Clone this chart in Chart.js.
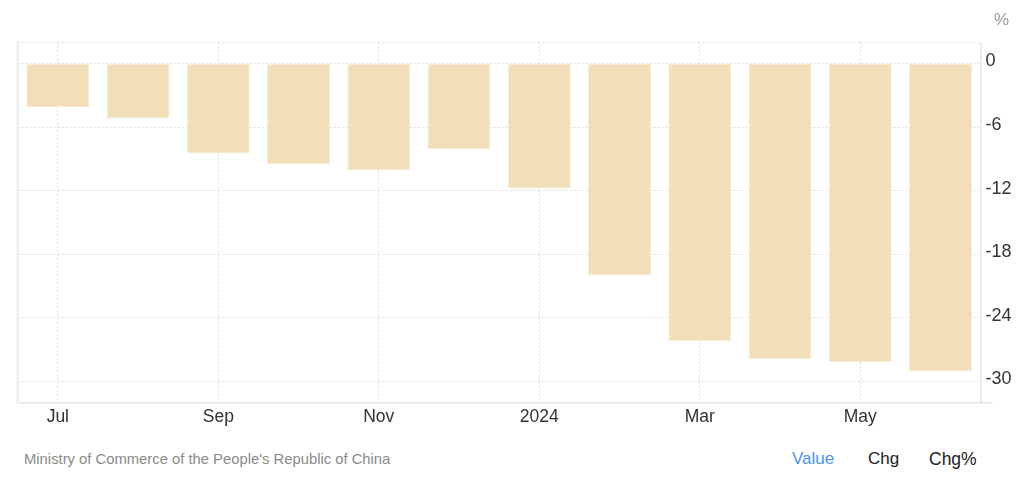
<!DOCTYPE html>
<html>
<head>
<meta charset="utf-8">
<script src="https://cdn.jsdelivr.net/npm/chart.js@4/dist/chart.umd.min.js"></script>
<style>
  body { margin: 0; background: #fff; font-family: "Liberation Sans", Arial, sans-serif; }
  #wrap { position: absolute; left: 0; top: 0; width: 1024px; height: 440px; }
  .unit { position: absolute; left: 994px; top: 10px; font-size: 17px; color: #999; }
  .source { position: absolute; left: 24px; top: 451px; font-size: 14.8px; color: #8a8a8a; }
  .tab { position: absolute; top: 449px; font-size: 17px; color: #222; }
</style>
</head>
<body>
<div id="wrap"><canvas id="chart"></canvas></div>
<div class="unit">%</div>
<div class="source">Ministry of Commerce of the People's Republic of China</div>
<div class="tab" style="left:792px;color:#4a95ee">Value</div>
<div class="tab" style="left:868px">Chg</div>
<div class="tab" style="left:929px;font-size:17.5px">Chg%</div>
<script>
const months = ['Jul', 'Aug', 'Sep', 'Oct', 'Nov', 'Dec', '2024', 'Feb', 'Mar', 'Apr', 'May', 'Jun'];
const values = [-4.1, -5.2, -8.5, -9.5, -10.1, -8.1, -11.8, -20.0, -26.2, -27.9, -28.2, -29.1];
const yTicks = [2, 0, -6, -12, -18, -24, -30];

const gridColor = '#dedede';

// frame lines around the plot like the original
const framePlugin = {
  id: 'frame',
  afterDraw(chart) {
    const a = chart.chartArea;
    const c = chart.ctx;
    c.save();
    c.strokeStyle = '#ebebeb';
    c.lineWidth = 2;
    c.beginPath();
    c.moveTo(a.left, a.top);
    c.lineTo(a.left, a.bottom);
    c.stroke();
    c.lineWidth = 1.5;
    c.strokeStyle = '#e6e6e6';
    c.beginPath();
    c.moveTo(a.right + 0.5, a.top);
    c.lineTo(a.right + 0.5, a.bottom);
    c.moveTo(a.left, a.bottom + 0.5);
    c.lineTo(a.right + 12, a.bottom + 0.5);
    c.stroke();
    c.restore();
  }
};

new Chart(document.getElementById('chart').getContext('2d'), {
  type: 'bar',
  data: {
    labels: months,
    datasets: [{
      data: values,
      backgroundColor: '#f0dfb8',
      borderColor: '#f8eed8',
      borderWidth: 1,
      borderSkipped: false,
      barPercentage: 0.785,
      categoryPercentage: 1
    }]
  },
  options: {
    responsive: true,
    maintainAspectRatio: false,
    animation: false,
    layout: { padding: { left: 17.7, top: 42.3, right: 0, bottom: 0 } },
    plugins: { legend: { display: false }, tooltip: { enabled: false } },
    scales: {
      x: {
        afterFit(axis) { axis.height = 37.7; },
        border: { display: false, dash: [2, 2] },
        grid: {
          offset: false,
          drawTicks: false,
          color: ctx => ctx.index % 2 === 0 ? gridColor : 'rgba(0,0,0,0)'
        },
        ticks: {
          autoSkip: false,
          maxRotation: 0,
          padding: 4,
          color: '#333',
          font: { family: 'Liberation Sans', size: 17.5 },
          callback: (v, i) => i % 2 === 0 ? months[i] : ''
        }
      },
      y: {
        position: 'right',
        min: -32,
        max: 2,
        afterFit(axis) { axis.width = 43.4; },
        afterBuildTicks(axis) { axis.ticks = yTicks.map(v => ({ value: v })); },
        border: { display: false, dash: [2, 2] },
        grid: { drawTicks: false, color: gridColor },
        ticks: {
          padding: 5,
          labelOffset: -2,
          color: '#333',
          font: { family: 'Liberation Sans', size: 18 },
          callback: v => v === 2 ? '' : v
        }
      }
    }
  },
  plugins: [framePlugin]
});
</script>
</body>
</html>
